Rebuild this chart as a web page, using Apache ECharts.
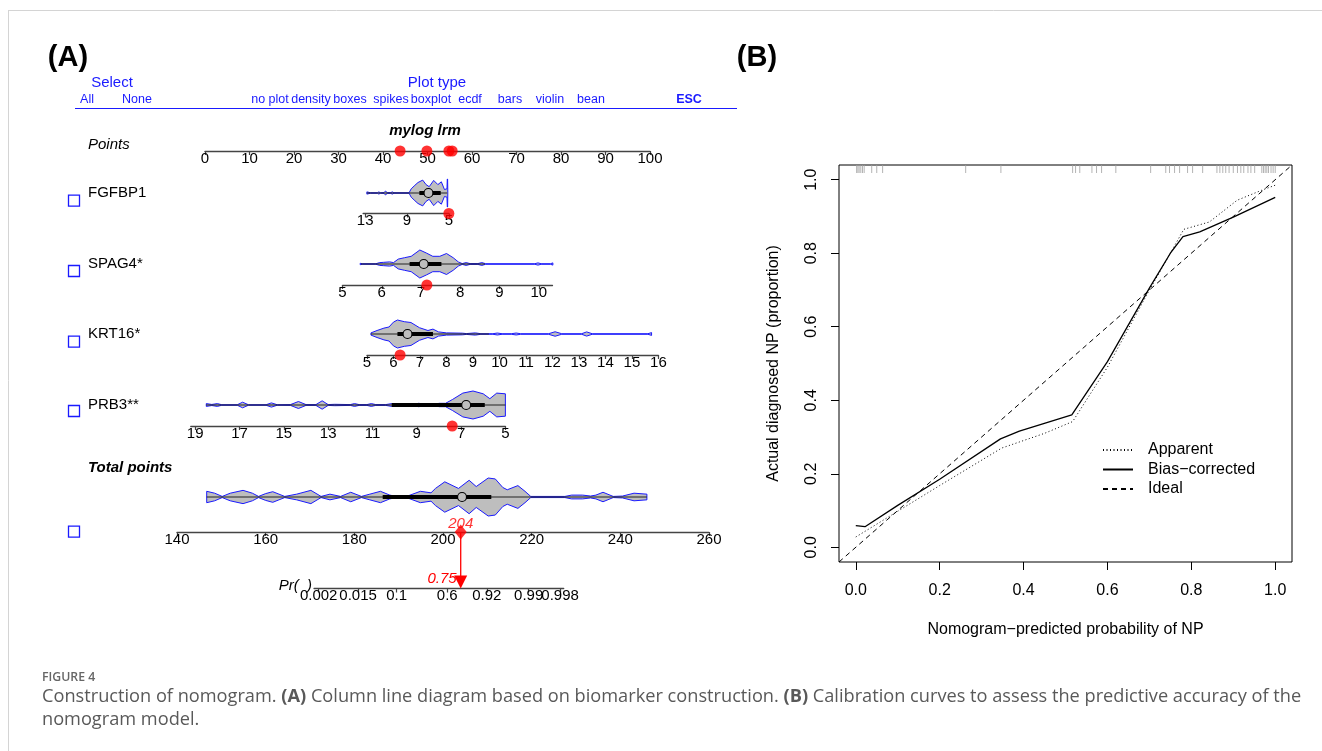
<!DOCTYPE html>
<html>
<head>
<meta charset="utf-8">
<title>Figure 4</title>
<script src="https://cdn.jsdelivr.net/npm/echarts@6/dist/echarts.min.js"></script>
<style>
  html, body { margin: 0; padding: 0; background: #fff; }
  #chart { width: 1322px; height: 751px; }
</style>
</head>
<body>
<div id="chart"></div>
<script>
// ---------- (A) nomogram, values ----------
var variables = ['FGFBP1', 'SPAG4*', 'KRT16*', 'PRB3**'];
var axisRanges = [[5, 13.2], [5, 10.35], [5, 16], [5, 19.2]];
var axisTicks = [
  [13, 9, 5],
  [5, 6, 7, 8, 9, 10],
  [5, 6, 7, 8, 9, 10, 11, 12, 13, 14, 15, 16],
  [19, 17, 15, 13, 11, 9, 7, 5]
];
// [value, points, value, points] for each variable
var pointsScale = [[13, 36.0, 5, 54.8], [5, 30.9, 10, 75.0], [5, 36.4, 16, 101.9], [19, -2.2, 5, 67.5]];
var patientValues = [5.0, 7.15, 6.25, 7.4];
var pointsTicks = [0, 10, 20, 30, 40, 50, 60, 70, 80, 90, 100];

// violin outlines: [value, relative half width]
var fgfbp1Violin = [[12.84,0.08],[12.5,0.02],[11.8,0.02],[11.7,0.08],[11.55,0.02],[11.2,0.03],[11.06,0.14],[10.9,0.03],[10.55,0.03],[10.4,0.08],[10.25,0.02],[8.8,0.02],[8.6,0.3],[8.25,0.55],[7.95,0.75],[7.5,0.92],[7.18,0.6],[6.88,0.45],[6.45,0.9],[6.05,0.6],[5.72,0.8],[5.42,0.25],[5.18,0.3],[5.15,1.0],[5.12,1.0],[5.1,0.02]];
var spag4Violin = [[5.45,0.05],[5.5,0.02],[5.85,0.02],[5.95,0.1],[6.05,0.12],[6.2,0.15],[6.3,0.1],[6.42,0.35],[6.58,0.45],[6.75,0.55],[6.97,1.0],[7.14,0.78],[7.3,0.55],[7.48,0.55],[7.65,0.75],[7.82,0.45],[7.95,0.15],[8.05,0.03],[8.15,0.1],[8.25,0.03],[8.45,0.03],[8.55,0.1],[8.65,0.02],[9.9,0.02],[9.98,0.08],[10.06,0.02],[10.3,0.02],[10.36,0.08]];
var krt16Violin = [[5.15,0.08],[5.38,0.25],[5.64,0.42],[5.83,0.5],[6.0,0.85],[6.15,1.0],[6.41,0.88],[6.66,0.82],[6.98,0.45],[7.3,0.25],[7.49,0.35],[7.7,0.15],[8.0,0.08],[8.6,0.06],[8.75,0.03],[9.09,0.08],[9.3,0.02],[9.75,0.02],[9.92,0.07],[10.1,0.02],[10.45,0.02],[10.63,0.07],[10.8,0.02],[11.85,0.02],[12.1,0.16],[12.35,0.02],[13.1,0.02],[13.29,0.15],[13.5,0.02],[15.6,0.02],[15.74,0.1]];
var prb3Violin = [[18.5,0.1],[18.25,0.04],[18.0,0.1],[17.8,0.02],[17.1,0.02],[16.86,0.2],[16.6,0.02],[15.8,0.02],[15.56,0.15],[15.3,0.02],[14.7,0.03],[14.34,0.25],[14.0,0.03],[13.55,0.03],[13.27,0.3],[13.0,0.03],[12.7,0.05],[12.0,0.03],[11.81,0.1],[11.6,0.03],[11.25,0.03],[11.05,0.1],[10.85,0.03],[10.4,0.03],[10.13,0.1],[9.8,0.03],[9.2,0.04],[8.91,0.12],[8.6,0.05],[8.2,0.05],[7.99,0.12],[7.7,0.12],[7.38,0.4],[6.92,0.85],[6.46,1.0],[6.0,0.8],[5.7,0.45],[5.39,0.85],[5.0,0.8]];
var violins = [fgfbp1Violin, spag4Violin, krt16Violin, prb3Violin];
// [whisker low, q1, median, q3, whisker high]
var boxStats = [[12.84, 7.82, 6.95, 5.78, 5.14], [5.47, 6.71, 7.07, 7.52, 8.63], [5.15, 6.15, 6.53, 7.49, 9.6], [18.5, 10.13, 6.77, 5.93, 5.0]];

var totalTicks = [140, 160, 180, 200, 220, 240, 260];
var totalViolin = [[146.7,0.3],[148.5,0.2],[150.2,0.03],[152,0.2],[154.9,0.35],[157,0.2],[158.4,0.03],[160,0.18],[161.6,0.28],[163,0.15],[164.3,0.03],[167,0.15],[170.2,0.35],[172.5,0.03],[174.5,0.15],[176.9,0.03],[179.2,0.25],[181.6,0.03],[183.5,0.15],[185.9,0.3],[188,0.1],[189.5,0.03],[192,0.05],[194.9,0.3],[197.3,0.22],[198.3,0.45],[200.4,0.8],[203.5,0.45],[205.9,0.88],[207.5,0.55],[210.2,1.0],[211.8,0.95],[213.5,0.5],[214.5,0.38],[216.9,0.6],[218.5,0.3],[219.8,0.03],[227.5,0.03],[229,0.1],[231.5,0.1],[233.3,0.05],[234.5,0.1],[236.1,0.25],[238.4,0.03],[240.5,0.05],[243.1,0.2],[246,0.15]];
var totalBox = [146.7, 186.4, 204.3, 210.9, 246];
var totalScore = 204;
var predictedProb = 0.75;
// probability ticks, split in two sets of labels so touching labels are all kept
var probTicksA = [0.002, 0.1, 0.92, 0.998];
var probTicksB = [0.015, 0.6, 0.99];
var tpPerLogit = 4.383;

// ---------- (B) calibration ----------
var apparentX = [0.0, 0.1, 0.2, 0.348, 0.45, 0.517, 0.6, 0.7, 0.75, 0.782, 0.843, 0.909, 0.967, 1.0];
var apparentY = [0.028, 0.098, 0.168, 0.27, 0.31, 0.342, 0.49, 0.7, 0.8, 0.865, 0.885, 0.944, 0.971, 0.985];
var biasX = [0.0, 0.022, 0.1, 0.2, 0.345, 0.39, 0.515, 0.6, 0.7, 0.75, 0.78, 0.82, 0.9, 1.0];
var biasY = [0.059, 0.056, 0.114, 0.185, 0.295, 0.316, 0.36, 0.505, 0.705, 0.8, 0.845, 0.858, 0.898, 0.952];
var idealLine = [[-0.04, -0.04], [1.04, 1.04]];
var rugX = [0.002, 0.005, 0.008, 0.012, 0.016, 0.02, 0.038, 0.05, 0.064, 0.262, 0.346, 0.517, 0.524, 0.534, 0.563, 0.574, 0.586, 0.62, 0.703, 0.739, 0.748, 0.76, 0.772, 0.791, 0.803, 0.827, 0.861, 0.868, 0.875, 0.882, 0.89, 0.9, 0.91, 0.918, 0.925, 0.935, 0.942, 0.951, 0.968, 0.972, 0.976, 0.98, 0.984, 0.99, 0.995, 1.0];
var calTicks = [0, 0.2, 0.4, 0.6, 0.8, 1.0];

// ---------- layout ----------
var FONT = 'Liberation Sans';
var BLUE = '#1a1aff';
var rowCentre = [193, 264, 334, 405];
var rowAxis = [213.5, 285, 355, 426];
var squareY = [200.7, 271, 341.7, 411, 531.7];

function ptsOf(i, v) {
  var s = pointsScale[i];
  return s[1] + (v - s[0]) * (s[3] - s[1]) / (s[2] - s[0]);
}
function ptsPx(p) { return 205 + 4.45 * p; }
function tpPx(t) { return 177 + (t - 140) * 4.433; }
function logit(p) { return Math.log(p / (1 - p)); }
function lpToTp(lp) { return totalScore + (lp - logit(predictedProb)) * tpPerLogit; }

var grids = [], xAxes = [], yAxes = [], series = [];

function nomoAxis(min, max, ticks, inverse, fmt) {
  return {
    type: 'value', min: min, max: max, inverse: !!inverse,
    splitLine: {show: false},
    axisLine: {show: true, onZero: false, lineStyle: {color: '#444', width: 1.3}},
    axisTick: {show: true, length: 4, customValues: ticks, lineStyle: {color: '#444', width: 1.2}},
    axisLabel: {show: true, customValues: ticks, margin: 0, fontSize: 15, fontFamily: FONT, color: '#000',
      showMinLabel: true, showMaxLabel: true, hideOverlap: false, formatter: fmt}
  };
}

// one grid per nomogram row; violin centre at y=0, axis line at yMin.
// returns the index of its xAxis and of its grid / yAxis
function addRow(left, right, centreY, axisY, halfH, xAxis) {
  var gi = grids.length;
  var top = centreY - halfH;
  grids.push({left: left, top: top, width: right - left, height: axisY - top, outerBoundsMode: 'none'});
  xAxis.gridIndex = gi;
  xAxis.position = 'bottom';
  var xi = xAxes.length;
  xAxes.push(xAxis);
  var yMin = -(axisY - centreY) / halfH;
  yAxes.push({gridIndex: gi, type: 'value', show: false, min: yMin, max: 1});
  return {gi: gi, xi: xi, yMin: yMin};
}

function violinSeries(row, violin, box) {
  return {
    type: 'custom', xAxisIndex: row.xi, yAxisIndex: row.gi, silent: true, z: 2,
    data: [[box[2], 0]],
    renderItem: function (params, api) {
      var top = violin.map(function (d) { return api.coord([d[0], d[1]]); });
      var bottom = violin.slice().reverse().map(function (d) { return api.coord([d[0], -d[1]]); });
      var lo = api.coord([box[0], 0]), q1 = api.coord([box[1], 0]);
      var md = api.coord([box[2], 0]), q3 = api.coord([box[3], 0]), hi = api.coord([box[4], 0]);
      return {
        type: 'group', children: [
          {type: 'polygon', shape: {points: top.concat(bottom)}, style: {fill: '#bebebe', stroke: BLUE, lineWidth: 1}},
          {type: 'line', shape: {x1: lo[0], y1: lo[1], x2: hi[0], y2: hi[1]}, style: {stroke: '#222', lineWidth: 1}},
          {type: 'line', shape: {x1: q1[0], y1: q1[1], x2: q3[0], y2: q3[1]}, style: {stroke: '#000', lineWidth: 4}},
          {type: 'circle', shape: {cx: md[0], cy: md[1], r: 4.5}, style: {fill: '#bebebe', stroke: '#000', lineWidth: 1.2}}
        ]
      };
    }
  };
}

function redDots(row, data) {
  return {
    type: 'scatter', xAxisIndex: row.xi, yAxisIndex: row.gi, silent: true, z: 5, clip: false,
    symbol: 'circle', symbolSize: 11, itemStyle: {color: '#ff0000'}, data: data
  };
}

// Points row
var pointsRow = addRow(ptsPx(0), ptsPx(100), 151, 151, 10, nomoAxis(0, 100, pointsTicks));
series.push(redDots(pointsRow, patientValues.map(function (v, i) { return [ptsOf(i, v), 0]; })));

// variable rows
variables.forEach(function (name, i) {
  var r = axisRanges[i];
  var pa = ptsPx(ptsOf(i, r[0])), pb = ptsPx(ptsOf(i, r[1]));
  var row = addRow(Math.min(pa, pb), Math.max(pa, pb), rowCentre[i], rowAxis[i], 14,
    nomoAxis(r[0], r[1], axisTicks[i], pa > pb));
  series.push(violinSeries(row, violins[i], boxStats[i]));
  series.push(redDots(row, [[patientValues[i], row.yMin]]));
});

// Total points row
var totalRow = addRow(tpPx(140), tpPx(260), 497, 532, 19, nomoAxis(140, 260, totalTicks));
series.push(violinSeries(totalRow, totalViolin, totalBox));
series.push({
  type: 'scatter', xAxisIndex: totalRow.xi, yAxisIndex: totalRow.gi, silent: true, z: 6, clip: false,
  symbol: 'diamond', symbolSize: [12, 15], itemStyle: {color: '#ff0000'},
  data: [[totalScore, totalRow.yMin]],
  label: {show: true, position: 'inside', offset: [0, -8], formatter: String(totalScore),
    fontSize: 15, fontFamily: FONT, fontStyle: 'italic', color: '#ff0000'}
});

// Pr axis (linear predictor units)
var lpMin = -6.45, lpMax = 6.4;
function probFormatter(list) {
  return function (v) {
    var best = 0;
    for (var k = 1; k < list.length; k++) {
      if (Math.abs(logit(list[k]) - v) < Math.abs(logit(list[best]) - v)) best = k;
    }
    return String(list[best]);
  };
}
var prRow = addRow(tpPx(lpToTp(lpMin)), tpPx(lpToTp(lpMax)), 588.5, 588.5, 56.5,
  nomoAxis(lpMin, lpMax, probTicksA.map(logit), false, probFormatter(probTicksA)));
// second set of labels on the same grid
var prAxisB = nomoAxis(lpMin, lpMax, probTicksB.map(logit), false, probFormatter(probTicksB));
prAxisB.gridIndex = prRow.gi;
prAxisB.position = 'bottom';
prAxisB.axisLine.show = false;
xAxes.push(prAxisB);

series.push({
  type: 'custom', xAxisIndex: prRow.xi, yAxisIndex: prRow.gi, silent: true, z: 6,
  data: [[logit(predictedProb), 0]],
  renderItem: function (params, api) {
    var lp = api.value(0);
    var a = api.coord([lp, 1]), b = api.coord([lp, 0]);
    return {
      type: 'group', children: [
        {type: 'line', shape: {x1: a[0], y1: a[1], x2: b[0], y2: b[1] - 12}, style: {stroke: '#ff0000', lineWidth: 1.3}},
        {type: 'polygon', shape: {points: [[b[0] - 6.5, b[1] - 13], [b[0] + 6.5, b[1] - 13], [b[0], b[1]]]}, style: {fill: '#ff0000'}},
        {type: 'text', style: {text: String(predictedProb), x: b[0] - 4, y: b[1] - 10, textAlign: 'right', textVerticalAlign: 'middle',
          fontSize: 15, fontFamily: FONT, fontStyle: 'italic', fill: '#ff0000'}}
      ]
    };
  }
});

// ---------- (B) calibration grid ----------
var calGi = grids.length;
var calXi = xAxes.length;
grids.push({left: 839, top: 165, width: 453, height: 397, show: true, borderColor: '#000', borderWidth: 1, outerBoundsMode: 'none'});
xAxes.push({
  gridIndex: calGi, type: 'value', min: -0.04, max: 1.04, position: 'bottom',
  name: 'Nomogram\u2212predicted probability of NP', nameLocation: 'middle', nameGap: 60,
  nameTextStyle: {fontSize: 16, fontFamily: FONT, color: '#000'},
  splitLine: {show: false},
  axisLine: {show: false, onZero: false},
  axisTick: {show: true, length: 8, customValues: calTicks, lineStyle: {color: '#000', width: 1}},
  axisLabel: {customValues: calTicks, margin: 21, fontSize: 16, fontFamily: FONT, color: '#000',
    formatter: function (v) { return v.toFixed(1); }}
});
yAxes.push({
  gridIndex: calGi, type: 'value', min: -0.04, max: 1.04, position: 'left',
  name: 'Actual diagnosed NP (proportion)', nameLocation: 'middle', nameGap: 57, nameRotate: 90,
  nameTextStyle: {fontSize: 16, fontFamily: FONT, color: '#000'},
  splitLine: {show: false},
  axisLine: {show: false, onZero: false},
  axisTick: {show: true, length: 8, customValues: calTicks, lineStyle: {color: '#000', width: 1}},
  axisLabel: {customValues: calTicks, margin: 19, rotate: 90, fontSize: 16, fontFamily: FONT, color: '#000',
    formatter: function (v) { return v.toFixed(1); }}
});

function zip(xs, ys) { return xs.map(function (x, i) { return [x, ys[i]]; }); }

// symbols are hidden so the legend only shows the line style
var noSymbol = {color: '#000', opacity: 0};
series.push({
  name: 'Apparent', type: 'line', xAxisIndex: calXi, yAxisIndex: calGi, symbol: 'none', silent: true,
  itemStyle: noSymbol, lineStyle: {color: '#000', width: 1, type: [1, 2.5]}, data: zip(apparentX, apparentY)
});
series.push({
  name: 'Bias\u2212corrected', type: 'line', xAxisIndex: calXi, yAxisIndex: calGi, symbol: 'none', silent: true,
  itemStyle: noSymbol, lineStyle: {color: '#000', width: 1.3, type: 'solid'}, data: zip(biasX, biasY)
});
series.push({
  name: 'Ideal', type: 'line', xAxisIndex: calXi, yAxisIndex: calGi, symbol: 'none', silent: true,
  itemStyle: noSymbol, lineStyle: {color: '#000', width: 1, type: [5, 4]}, data: idealLine
});
series.push({
  type: 'scatter', xAxisIndex: calXi, yAxisIndex: calGi, silent: true, clip: false,
  symbol: 'rect', symbolSize: [1, 8], symbolOffset: [0, 4], itemStyle: {color: '#a0a0a0'},
  data: rugX.map(function (x) { return [x, 1.04]; })
});

// ---------- texts and decorations ----------
function txt(text, x, y, size, opts) {
  opts = opts || {};
  return {
    type: 'text', silent: true, z: 10,
    style: {
      text: text, x: x, y: y, fontSize: size, fontFamily: opts.family || FONT,
      fontWeight: opts.weight || 'normal', fontStyle: opts.style || 'normal',
      fill: opts.color || '#000', textAlign: opts.align || 'left', textVerticalAlign: 'middle'
    }
  };
}

var CAP = 18.2;
var graphic = [
  {type: 'line', silent: true, shape: {x1: 8, y1: 10.5, x2: 1322, y2: 10.5}, style: {stroke: '#d4d4d4', lineWidth: 1}},
  {type: 'line', silent: true, shape: {x1: 8.5, y1: 10, x2: 8.5, y2: 751}, style: {stroke: '#d4d4d4', lineWidth: 1}},
  txt('(A)', 68, 58, 29, {weight: 'bold', align: 'center'}),
  txt('(B)', 757, 58, 29, {weight: 'bold', align: 'center'}),
  txt('Select', 112, 83, 15, {color: BLUE, align: 'center'}),
  txt('Plot type', 437, 83, 15, {color: BLUE, align: 'center'}),
  txt('All', 87, 100, 12.5, {color: BLUE, align: 'center'}),
  txt('None', 137, 100, 12.5, {color: BLUE, align: 'center'}),
  txt('no plot', 270, 100, 12.5, {color: BLUE, align: 'center'}),
  txt('density', 311, 100, 12.5, {color: BLUE, align: 'center'}),
  txt('boxes', 350, 100, 12.5, {color: BLUE, align: 'center'}),
  txt('spikes', 391, 100, 12.5, {color: BLUE, align: 'center'}),
  txt('boxplot', 431, 100, 12.5, {color: BLUE, align: 'center'}),
  txt('ecdf', 470, 100, 12.5, {color: BLUE, align: 'center'}),
  txt('bars', 510, 100, 12.5, {color: BLUE, align: 'center'}),
  txt('violin', 550, 100, 12.5, {color: BLUE, align: 'center'}),
  txt('bean', 591, 100, 12.5, {color: BLUE, align: 'center'}),
  txt('ESC', 689, 100, 12.5, {color: BLUE, align: 'center', weight: 'bold'}),
  {type: 'line', silent: true, shape: {x1: 75, y1: 108.5, x2: 737, y2: 108.5}, style: {stroke: BLUE, lineWidth: 1}},
  txt('mylog lrm', 425, 131, 15, {weight: 'bold', style: 'italic', align: 'center'}),
  txt('Points', 88, 145, 15, {style: 'italic'}),
  txt('Total points', 88, 468, 15, {weight: 'bold', style: 'italic'}),
  txt('Pr(  )', 312, 586, 15, {style: 'italic', align: 'right'}),
  txt('FIGURE 4', 42, 677, 12.3, {family: 'Open Sans', weight: 600, color: '#666'}),
  {
    type: 'text', silent: true,
    style: {
      text: '{n|Construction of nomogram. }{b|(A)}{n| Column line diagram based on biomarker construction. }{b|(B)}{n| Calibration curves to assess the predictive accuracy of the}',
      x: 42, y: 697, textVerticalAlign: 'middle', fill: '#595959', fontSize: CAP, fontFamily: 'Open Sans',
      rich: {
        n: {fontSize: CAP, fontFamily: 'Open Sans', color: '#595959'},
        b: {fontSize: CAP, fontFamily: 'Open Sans', fontWeight: 'bold', color: '#595959'}
      }
    }
  },
  txt('nomogram model.', 42, 720, CAP, {family: 'Open Sans', color: '#595959'})
];
variables.forEach(function (name, i) {
  graphic.push(txt(name, 88, rowCentre[i], 15));
});
squareY.forEach(function (y) {
  graphic.push({type: 'rect', silent: true, shape: {x: 68.5, y: y - 5.5, width: 11, height: 11},
    style: {fill: 'none', stroke: BLUE, lineWidth: 1.3}});
});

var chart = echarts.init(document.getElementById('chart'));
chart.setOption({
  animation: false,
  backgroundColor: '#fff',
  grid: grids,
  xAxis: xAxes,
  yAxis: yAxes,
  legend: {
    data: ['Apparent', 'Bias\u2212corrected', 'Ideal'],
    orient: 'vertical', left: 1097, top: 437, selectedMode: false,
    itemWidth: 30, itemHeight: 12, itemGap: 3.5,
    textStyle: {fontSize: 16, fontFamily: FONT, color: '#000', padding: [0, 0, 0, 10]}
  },
  graphic: graphic,
  series: series
});
</script>
</body>
</html>
